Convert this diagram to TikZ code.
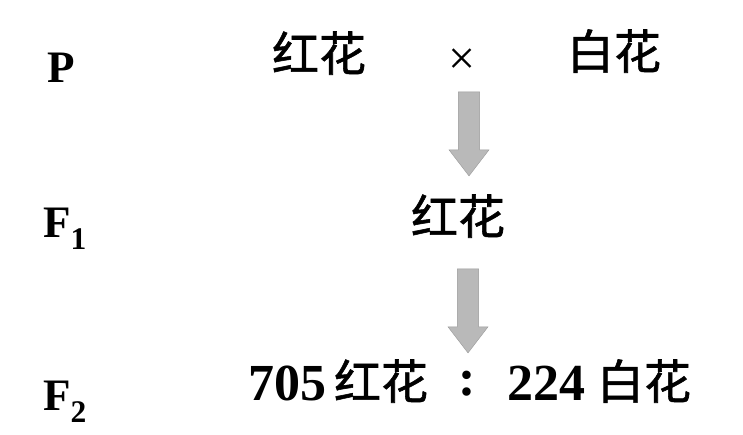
\documentclass[tikz,border=0pt]{standalone}
\usepackage{fontspec}
\setmainfont{Liberation Serif}
\newfontfamily\cjk[FakeBold=1.2]{Noto Sans CJK SC}
\usetikzlibrary{shapes.arrows}
\tikzset{l/.style={font=\fontsize{45}{45}\selectfont\bfseries}}
\tikzset{n/.style={font=\fontsize{52}{52}\selectfont\bfseries}}
\tikzset{h/.style={font=\fontsize{47}{47}\selectfont\cjk}}
\tikzset{g/.style={single arrow,shape border rotate=270,draw=gray!80,fill=gray!55,
  inner sep=10pt,minimum height=84pt,minimum width=40pt,single arrow head extend=9pt,
  single arrow tip angle=75}}

\begin{document}
\begin{tikzpicture}[x=1pt,y=-1pt]
        \useasboundingbox (0,0) rectangle (743,434);
        % generation labels
        \node[l,anchor=base west,inner sep=0] (P) at (47,82) {P};
        \node[l,anchor=base west,inner sep=0] (F1) at (43,237) {F$_{\mathbf{1}}$};
        \node[l,anchor=base west,inner sep=0] (F2) at (43,410) {F$_{\mathbf{2}}$};
        % parents
        \node[h,anchor=base,inner sep=0] (red) at (319,71) {红花};
        \node[font=\fontsize{48}{48}\selectfont,inner sep=0] (cross) at (462,62) {×};
        \node[h,anchor=base,inner sep=0] (white) at (614,69) {白花};
        \node[g] (a1) at (469,127) {};
        % first generation
        \node[h,anchor=base,inner sep=0] (hybrid) at (458,234) {红花};
        \node[g] (a2) at (468,304) {};
        % second generation
        \node[n,anchor=base west,inner sep=0] (nred) at (248,400) {705};
        \node[h,anchor=base,inner sep=0] (red2) at (381,399) {红花};
        \node[n,inner sep=0] (colon) at (467,384) {:};
        \node[n,anchor=base west,inner sep=0] (nwhite) at (507,400) {224};
        \node[h,anchor=base,inner sep=0] (white2) at (644,399) {白花};
      \end{tikzpicture}
\end{document}
